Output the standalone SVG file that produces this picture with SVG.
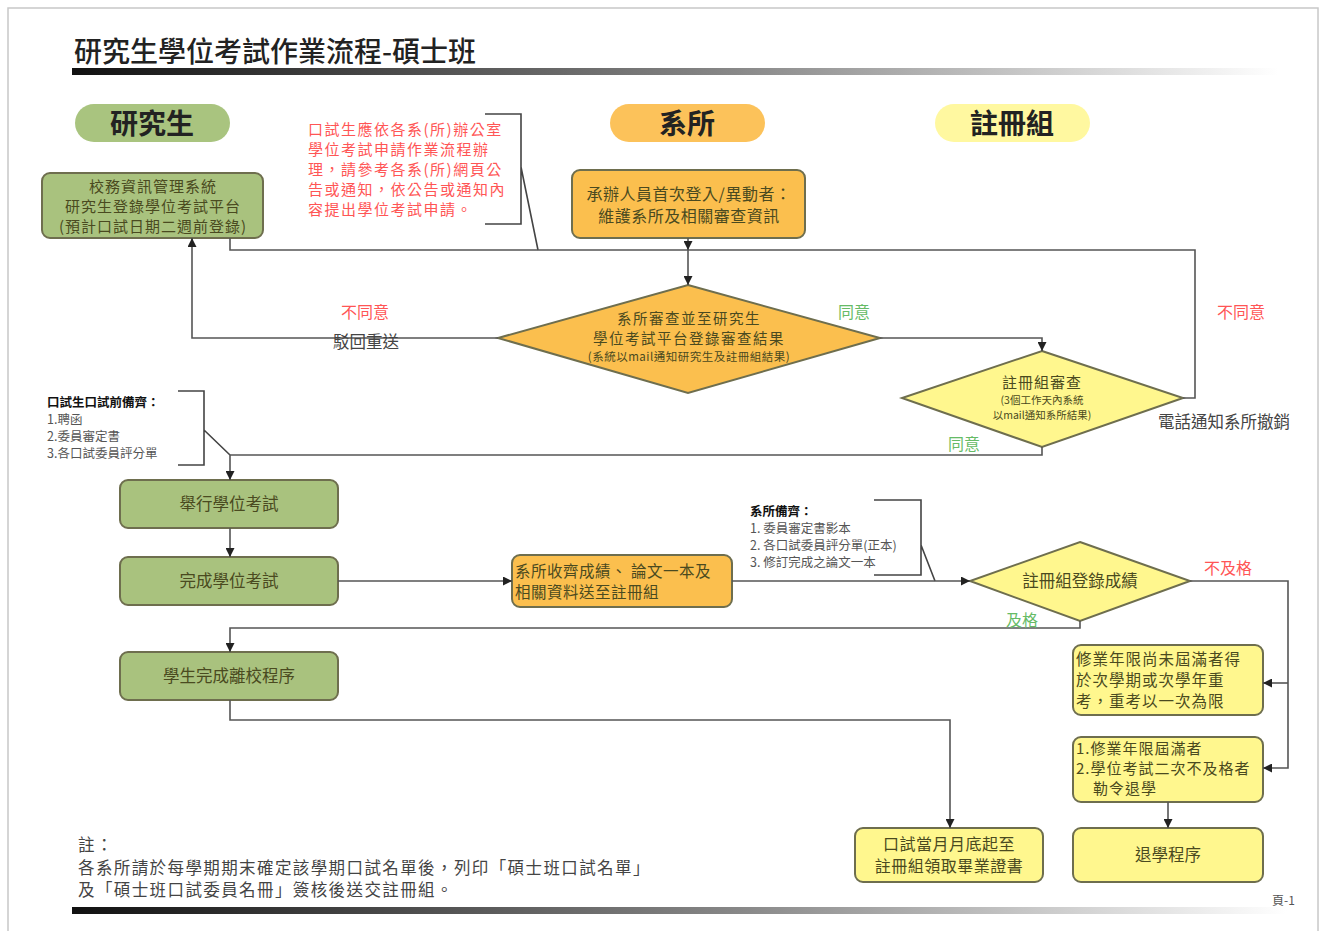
<svg xmlns="http://www.w3.org/2000/svg" width="1324" height="931" viewBox="0 0 1324 931">
<defs>
<linearGradient id="bar" x1="0" y1="0" x2="1" y2="0">
<stop offset="0" stop-color="#111"/>
<stop offset="0.55" stop-color="#888"/>
<stop offset="1" stop-color="#fff"/>
</linearGradient>
<marker id="arr" markerUnits="userSpaceOnUse" markerWidth="9" markerHeight="9" refX="9" refY="4.5" orient="auto">
<path d="M0,0 L9,4.5 L0,9 z" fill="#222"/>
</marker>
<style>
text{font-family:"Noto Sans CJK TC","Noto Sans CJK SC",sans-serif;}
.box{stroke:#6e6e4e;stroke-width:2;}
.g{fill:#a9c27e;}
.o{fill:#fbbf4e;}
.y{fill:#fff78e;}
.t{font-size:15px;letter-spacing:1px;fill:#4a4a20;}
.tc{font-size:15px;letter-spacing:1px;fill:#4a4a20;text-anchor:middle;}
.t1{font-size:16.5px;fill:#4a4a20;text-anchor:middle;}
.small{font-size:10.5px;fill:#4a4a20;text-anchor:middle;}
.head{font-size:28px;font-weight:bold;fill:#222;text-anchor:middle;}
.red{fill:#ff5555;font-size:15px;letter-spacing:1.5px;}
.redl{fill:#ff5555;font-size:16px;}
.grn{fill:#66bb66;font-size:16px;}
.blk{fill:#444;font-size:16.5px;}
.note{fill:#555;font-size:12.5px;}
.noteb{fill:#111;font-size:12.5px;font-weight:bold;}
.foot{font-size:16.5px;letter-spacing:1.4px;fill:#444;}
.conn{fill:none;stroke:#555;stroke-width:1.6;}
.brk{fill:none;stroke:#444;stroke-width:1.6;}
</style>
</defs>
<rect x="0" y="0" width="1324" height="931" fill="#fff"/>
<rect x="8" y="8" width="1310" height="940" fill="none" stroke="#c8c8c8" stroke-width="1.5"/>

<g id="title">
<text x="74" y="62" style="font-size:28px;font-weight:500;fill:#222">研究生學位考試作業流程-碩士班</text>
<rect x="72" y="68" width="1206" height="7" fill="url(#bar)"/>
</g>

<g id="lane-student"><rect x="75" y="104" width="155" height="38" rx="19" fill="#a9c47f"/><text x="152" y="134" class="head">研究生</text></g>
<g id="lane-dept"><rect x="610" y="104" width="155" height="38" rx="19" fill="#fcc25a"/><text x="687" y="134" class="head">系所</text></g>
<g id="lane-reg"><rect x="935" y="104" width="155" height="38" rx="19" fill="#fff8a0"/><text x="1012" y="134" class="head">註冊組</text></g>

<g id="note-red">
<text class="red" x="308" y="135">口試生應依各系(所)辦公室</text>
<text class="red" x="308" y="155">學位考試申請作業流程辦</text>
<text class="red" x="308" y="175">理，請參考各系(所)網頁公</text>
<text class="red" x="308" y="195">告或通知，依公告或通知內</text>
<text class="red" x="308" y="215">容提出學位考試申請。</text>
<path class="brk" d="M485,114 H521 V224 H485 M521,167 L538,250"/>
</g>

<g id="n-register">
<rect class="box g" x="42" y="173" width="221" height="65" rx="8"/>
<text class="tc" x="153" y="192">校務資訊管理系統</text>
<text class="tc" x="153" y="212">研究生登錄學位考試平台</text>
<text class="tc" x="153" y="232">(預計口試日期二週前登錄)</text>
</g>

<g id="n-dept-maint">
<rect class="box o" x="572" y="170" width="233" height="68" rx="8"/>
<text class="tc" x="689" y="200" style="font-size:16px;letter-spacing:0.5px">承辦人員首次登入/異動者：</text>
<text class="tc" x="689" y="222" style="font-size:16px;letter-spacing:0.5px">維護系所及相關審查資訊</text>
</g>

<g id="d-dept-review">
<polygon class="box o" points="688,285 880,338 688,393 498,338"/>
<text class="tc" x="689" y="324" style="font-size:14.5px;letter-spacing:1.5px">系所審查並至研究生</text>
<text class="tc" x="689" y="344" style="font-size:14.5px;letter-spacing:1.5px">學位考試平台登錄審查結果</text>
<text x="689" y="361" style="font-size:11.5px;letter-spacing:0.5px;fill:#4a4a20;text-anchor:middle">(系統以mail通知研究生及註冊組結果)</text>
</g>

<g id="d-reg-review">
<polygon class="box y" points="1042,351 1183,398 1042,447 902,398"/>
<text class="tc" x="1042" y="388">註冊組審查</text>
<text class="small" x="1042" y="404">(3個工作天內系統</text>
<text class="small" x="1042" y="419">以mail通知系所結果)</text>
</g>

<g id="note-prep">
<text class="noteb" x="47" y="407">口試生口試前備齊：</text>
<text class="note" x="47" y="424">1.聘函</text>
<text class="note" x="47" y="441">2.委員審定書</text>
<text class="note" x="47" y="458">3.各口試委員評分單</text>
<path class="brk" d="M178,391 H204 V465 H178 M204,430 L230,455"/>
</g>

<g id="n-hold"><rect class="box g" x="120" y="480" width="218" height="48" rx="8"/><text class="t1" x="229" y="510">舉行學位考試</text></g>
<g id="n-done"><rect class="box g" x="120" y="557" width="218" height="48" rx="8"/><text class="t1" x="229" y="587">完成學位考試</text></g>
<g id="n-leave"><rect class="box g" x="120" y="652" width="218" height="48" rx="8"/><text class="t1" x="229" y="682">學生完成離校程序</text></g>

<g id="n-collect">
<rect class="box o" x="512" y="555" width="220" height="52" rx="8"/>
<text class="t" x="515" y="577" style="font-size:15.5px;letter-spacing:0.5px">系所收齊成績、 論文一本及</text>
<text class="t" x="515" y="598" style="font-size:15.5px;letter-spacing:0.5px">相關資料送至註冊組</text>
</g>

<g id="note-dept">
<text class="noteb" x="750" y="516">系所備齊：</text>
<text class="note" x="750" y="533">1. 委員審定書影本</text>
<text class="note" x="750" y="550">2. 各口試委員評分單(正本)</text>
<text class="note" x="750" y="567">3. 修訂完成之論文一本</text>
<path class="brk" d="M874,500 H921 V575 H874 M921,545 L935,581"/>
</g>

<g id="d-grade"><polygon class="box y" points="1080,542 1190,581 1080,621 970,581"/><text class="t1" x="1080" y="587">註冊組登錄成績</text></g>

<g id="n-retake">
<rect class="box y" x="1073" y="645" width="190" height="70" rx="8"/>
<text class="t" x="1076" y="665" style="font-size:15.5px">修業年限尚未屆滿者得</text>
<text class="t" x="1076" y="686" style="font-size:15.5px">於次學期或次學年重</text>
<text class="t" x="1076" y="707" style="font-size:15.5px">考，重考以一次為限</text>
</g>
<g id="n-expire">
<rect class="box y" x="1073" y="737" width="190" height="65" rx="8"/>
<text class="t" x="1076" y="754">1.修業年限屆滿者</text>
<text class="t" x="1076" y="774">2.學位考試二次不及格者</text>
<text class="t" x="1093" y="794">勒令退學</text>
</g>
<g id="n-withdraw"><rect class="box y" x="1073" y="828" width="190" height="54" rx="8"/><text class="t1" x="1168" y="861">退學程序</text></g>
<g id="n-diploma">
<rect class="box y" x="855" y="828" width="188" height="54" rx="8"/>
<text class="tc" x="949" y="850" style="font-size:16px;letter-spacing:0.5px">口試當月月底起至</text>
<text class="tc" x="949" y="872" style="font-size:16px;letter-spacing:0.5px">註冊組領取畢業證書</text>
</g>

<g id="connectors">
<path class="conn" d="M230,238 V250 H1195 V398 H1183"/>
<path class="conn" d="M688,238 V250" marker-end="url(#arr)"/>
<path class="conn" d="M688,250 V285" marker-end="url(#arr)"/>
<path class="conn" d="M498,338 H192 V238" marker-end="url(#arr)"/>
<path class="conn" d="M880,338 H1042 V351" marker-end="url(#arr)"/>
<path class="conn" d="M1042,447 V455 H230 V480" marker-end="url(#arr)"/>
<path class="conn" d="M230,528 V557" marker-end="url(#arr)"/>
<path class="conn" d="M338,581 H512" marker-end="url(#arr)"/>
<path class="conn" d="M732,581 H970" marker-end="url(#arr)"/>
<path class="conn" d="M1080,621 V628 H230 V652" marker-end="url(#arr)"/>
<path class="conn" d="M230,700 V720 H950 V828" marker-end="url(#arr)"/>
<path class="conn" d="M1190,581 H1288 V768 H1263" marker-end="url(#arr)"/>
<path class="conn" d="M1288,683 H1263" marker-end="url(#arr)"/>
<path class="conn" d="M1168,802 V828" marker-end="url(#arr)"/>
</g>

<g id="labels">
<text class="redl" x="341" y="318">不同意</text>
<text class="blk" x="333" y="348">駁回重送</text>
<text class="grn" x="838" y="318">同意</text>
<text class="redl" x="1217" y="318">不同意</text>
<text class="blk" x="1158" y="428">電話通知系所撤銷</text>
<text class="grn" x="948" y="450">同意</text>
<text class="redl" x="1204" y="574">不及格</text>
<text class="grn" x="1006" y="626">及格</text>
</g>

<g id="footer">
<text class="foot" x="78" y="851">註：</text>
<text class="foot" x="78" y="874">各系所請於每學期期末確定該學期口試名單後，列印「碩士班口試名單」</text>
<text class="foot" x="78" y="896">及「碩士班口試委員名冊」簽核後送交註冊組。</text>
<rect x="72" y="907" width="1215" height="7" fill="url(#bar)"/>
<text x="1272" y="905" style="font-size:12px;fill:#555">頁-1</text>
</g>
</svg>
